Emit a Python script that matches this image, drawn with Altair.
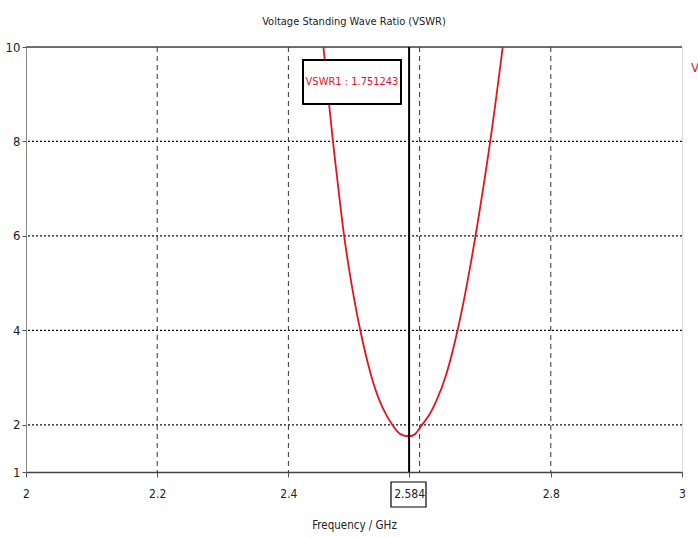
import altair as alt
import pandas as pd

# Curve samples (frequency in GHz, VSWR)
freq = [2.4534, 2.4676, 2.4753, 2.4844, 2.4957, 2.5089, 2.5270, 2.5400, 2.5505, 2.5583,
        2.5700, 2.5837, 2.5935, 2.6030, 2.6140, 2.6241, 2.6395, 2.6585, 2.6728, 2.6855,
        2.7084, 2.7267]
vswr = [10.0, 8.0, 7.12, 6.0, 5.0, 4.0, 2.95, 2.455, 2.17, 2.0,
        1.77, 1.751, 1.77, 2.0, 2.17, 2.455, 2.95, 4.0, 5.0, 6.0,
        8.0, 10.0]

x_ticks = [2, 2.2, 2.4, 2.584, 2.8, 3]
y_ticks = [1, 2, 4, 6, 8, 10]
x_grid = [2.2, 2.4, 2.6, 2.8]
y_grid = [2, 4, 6, 8]
marker_freq = 2.584
marker_label = "VSWR1 : 1.751243"
title_text = "Voltage Standing Wave Ratio (VSWR)"

FONT = "DejaVu Sans Condensed, Liberation Sans, sans-serif"
W, H = 656, 425
RED = "#e3141c"

curve_df = pd.DataFrame({"f": freq, "v": vswr})
xs = alt.Scale(domain=[2, 3], nice=False, zero=False)
ys = alt.Scale(domain=[1, 10], nice=False, zero=False)

xaxis = alt.Axis(values=x_ticks, grid=False, title="Frequency / GHz",
                 labelExpr="toString(datum.value)", labelFont=FONT, labelFontSize=12,
                 labelColor="#222", tickColor="#555", tickSize=5, labelPadding=11,
                 domainColor="#444", domainWidth=1.5, titleFont=FONT, titleFontSize=11.5,
                 titleFontWeight="normal", titleColor="#222", titlePadding=20, labelFlush=False)
yaxis = alt.Axis(values=y_ticks, grid=False, title=None, labelFont=FONT, labelFontSize=13,
                 labelColor="#222", tickColor="#555", tickSize=4, labelPadding=2,
                 domainColor="#888")

hgrid = alt.Chart(pd.DataFrame({"v": y_grid})).mark_rule(
    color="#111", strokeDash=[2, 2], strokeWidth=1.2).encode(
    y=alt.Y("v:Q", scale=ys, axis=yaxis))
vgrid = alt.Chart(pd.DataFrame({"f": x_grid})).mark_rule(
    color="#333", strokeDash=[5, 4], strokeWidth=1).encode(
    x=alt.X("f:Q", scale=xs, axis=xaxis))
top = alt.Chart(pd.DataFrame({"v": [10]})).mark_rule(color="#444", strokeWidth=1.5).encode(
    y=alt.Y("v:Q", scale=ys))

curve = alt.Chart(curve_df).mark_line(color=RED, strokeWidth=1.8, interpolate="basis", clip=True).encode(
    x=alt.X("f:Q", scale=xs, axis=xaxis),
    y=alt.Y("v:Q", scale=ys, axis=yaxis))

marker = alt.Chart(pd.DataFrame({"f": [marker_freq]})).mark_rule(color="#000", strokeWidth=2).encode(
    x=alt.X("f:Q", scale=xs))

label_box = alt.Chart(pd.DataFrame({"a": [0]})).mark_rect(
    fill="white", stroke="#000", strokeWidth=2).encode(
    x=alt.value(277), x2=alt.value(375), y=alt.value(13), y2=alt.value(57))
label_text = alt.Chart(pd.DataFrame({"t": [marker_label]})).mark_text(
    color=RED, font=FONT, fontSize=11, align="center", baseline="middle").encode(
    x=alt.value(326), y=alt.value(35), text="t:N")

tick_box = alt.Chart(pd.DataFrame({"a": [0]})).mark_rect(
    fill=None, stroke="#000", strokeWidth=1.2, clip=False).encode(
    x=alt.value(365), x2=alt.value(400), y=alt.value(435), y2=alt.value(460))

legend_v = alt.Chart(pd.DataFrame({"t": ["V"]})).mark_text(
    color=RED, font=FONT, fontSize=13, align="left", baseline="middle").encode(
    x=alt.value(W + 9), y=alt.value(21), text="t:N")

title = alt.Chart(pd.DataFrame({"t": [title_text]})).mark_text(
    color="#222", font=FONT, fontSize=11, align="center", baseline="middle").encode(
    x=alt.value(W / 2), y=alt.value(-25), text="t:N")

chart = alt.layer(hgrid, vgrid, top, curve, marker, label_box, label_text, tick_box,
                  legend_v, title).properties(
    width=W, height=H,
    autosize=alt.AutoSizeParams(type="none"),
    padding={"left": 26, "top": 47, "right": 16, "bottom": 66},
).configure_view(stroke="#888", strokeWidth=1).configure(background="white")

chart.save("out.html", embed_options={"renderer": "svg", "actions": False})
